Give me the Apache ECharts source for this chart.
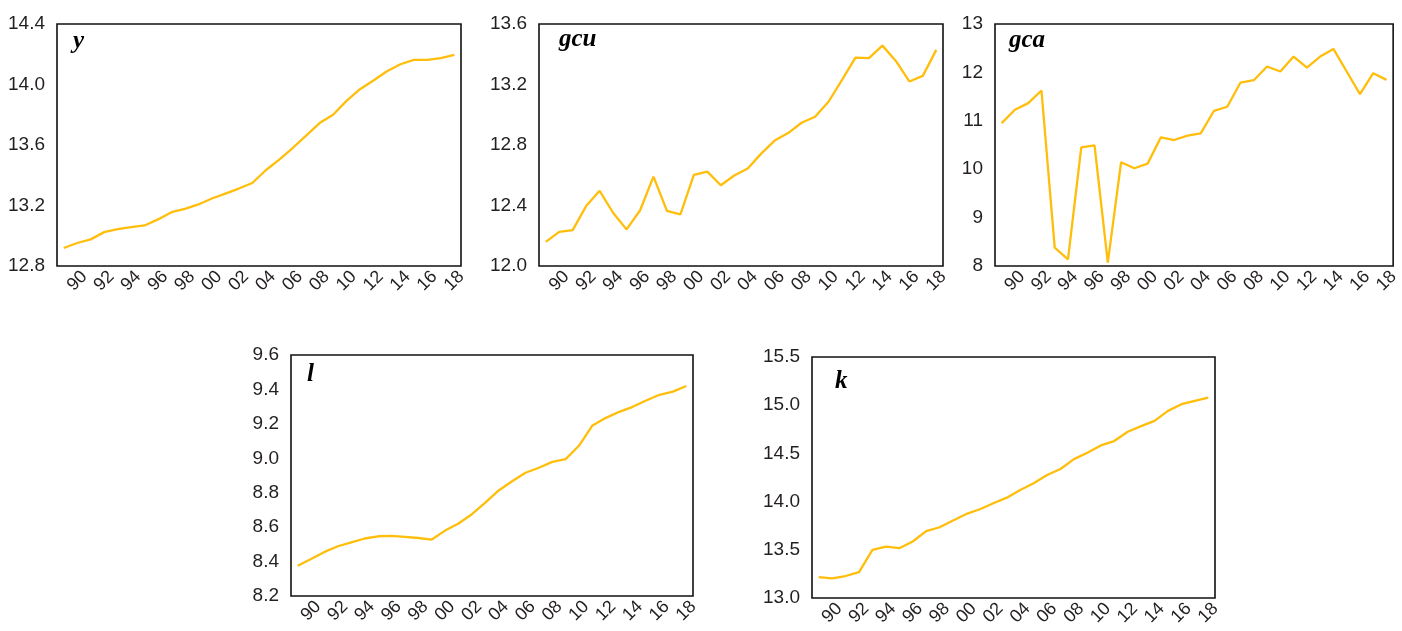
<!DOCTYPE html>
<html>
<head>
<meta charset="utf-8">
<script src="https://cdn.jsdelivr.net/npm/echarts@6/dist/echarts.min.js"></script>
<style>
html,body{margin:0;padding:0;background:#fff;}
#c{width:1402px;height:631px;}
</style>
</head>
<body>
<div id="c"></div>
<script>
const years = ['89','90','91','92','93','94','95','96','97','98','99','00','01','02','03','04','05','06','07','08','09','10','11','12','13','14','15','16','17','18'];

const yVals = [12.919,12.952,12.976,13.024,13.044,13.057,13.068,13.108,13.156,13.178,13.207,13.246,13.279,13.312,13.349,13.433,13.503,13.580,13.662,13.745,13.800,13.892,13.969,14.026,14.088,14.134,14.163,14.163,14.174,14.196];
const gcuVals = [12.160,12.226,12.237,12.396,12.497,12.352,12.242,12.367,12.591,12.365,12.341,12.602,12.624,12.534,12.598,12.644,12.743,12.829,12.879,12.947,12.987,13.086,13.231,13.378,13.374,13.457,13.356,13.220,13.257,13.429];
const gcaVals = [10.953,11.228,11.365,11.626,8.378,8.137,10.452,10.493,8.069,10.143,10.019,10.115,10.658,10.603,10.692,10.740,11.207,11.290,11.791,11.839,12.121,12.018,12.327,12.100,12.327,12.485,12.018,11.551,11.984,11.846];
const lVals = [8.376,8.415,8.456,8.489,8.512,8.534,8.547,8.549,8.543,8.537,8.528,8.580,8.621,8.675,8.743,8.813,8.867,8.916,8.945,8.979,8.995,9.074,9.191,9.235,9.270,9.299,9.336,9.369,9.387,9.420];
const kVals = [13.217,13.203,13.228,13.269,13.500,13.534,13.517,13.586,13.693,13.734,13.803,13.872,13.921,13.983,14.041,14.121,14.190,14.276,14.338,14.441,14.507,14.583,14.628,14.724,14.783,14.838,14.941,15.010,15.045,15.079];

const panelNames = ['y','gcu','gca','l','k'];
const panelData = [yVals, gcuVals, gcaVals, lVals, kVals];
const yMins = [12.8, 12.0, 8, 8.2, 13.0];
const yMaxs = [14.4, 13.6, 13, 9.6, 15.5];
const yIntervals = [0.4, 0.4, 1, 0.2, 0.5];
const yDecimals = [1, 1, 0, 1, 1];

const grids = [
  {left: 57, top: 24, width: 404, height: 242},
  {left: 539, top: 24, width: 404, height: 242},
  {left: 995, top: 24, width: 403, height: 242},
  {left: 291, top: 355, width: 402, height: 241},
  {left: 812, top: 357, width: 403, height: 241}
];
const titlePos = [
  {left: 73, top: 29},
  {left: 559, top: 27},
  {left: 1009, top: 28},
  {left: 307, top: 362},
  {left: 835, top: 369}
];

const lineColor = '#FFBE0B';
const textColor = '#231F20';
const labelFont = 'Arial, "Liberation Sans", Helvetica, sans-serif';

const option = {
  backgroundColor: '#fff',
  animation: false,
  title: panelNames.map((n, i) => ({
    text: n,
    left: titlePos[i].left,
    top: titlePos[i].top,
    padding: 0,
    textStyle: {
      fontFamily: '"Liberation Serif", "Times New Roman", serif',
      fontStyle: 'italic',
      fontWeight: 'bold',
      fontSize: 25,
      color: '#000'
    }
  })),
  grid: grids.map(g => Object.assign({
    show: true,
    borderColor: '#111',
    borderWidth: 1.6,
    backgroundColor: 'transparent',
    containLabel: false
  }, g)),
  xAxis: panelNames.map((n, i) => ({
    type: 'category',
    gridIndex: i,
    data: years,
    boundaryGap: true,
    axisLine: {show: false},
    axisTick: {show: false},
    splitLine: {show: false},
    axisLabel: {
      interval: (idx) => idx % 2 === 1,
      rotate: 45,
      align: 'center',
      verticalAlign: 'middle',
      margin: 15,
      fontSize: 18,
      fontFamily: labelFont,
      color: textColor
    }
  })),
  yAxis: panelNames.map((n, i) => ({
    type: 'value',
    gridIndex: i,
    min: yMins[i],
    max: yMaxs[i],
    interval: yIntervals[i],
    axisLine: {show: false},
    axisTick: {show: false},
    splitLine: {show: false},
    axisLabel: {
      margin: 12,
      fontSize: 19,
      fontFamily: labelFont,
      color: textColor,
      padding: [0, 0, 8, 0],
      formatter: (v) => v.toFixed(yDecimals[i])
    }
  })),
  series: panelNames.map((n, i) => ({
    type: 'line',
    name: n,
    xAxisIndex: i,
    yAxisIndex: i,
    data: panelData[i],
    showSymbol: false,
    symbol: 'none',
    lineStyle: {color: lineColor, width: 2.3},
    itemStyle: {color: lineColor}
  }))
};

const chart = echarts.init(document.getElementById('c'), null, {renderer: 'canvas'});
chart.setOption(option);
</script>
</body>
</html>
